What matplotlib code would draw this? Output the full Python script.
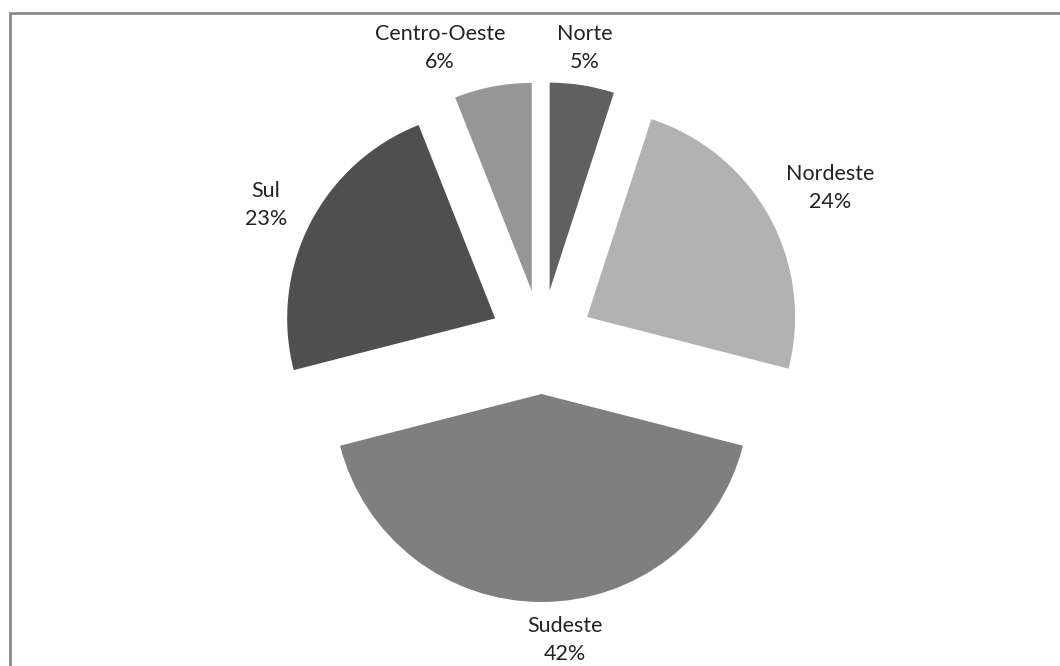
import matplotlib.pyplot as plt
from matplotlib.patches import Rectangle

# regional shares (%), clockwise from the top
regions = ["Norte", "Nordeste", "Sudeste", "Sul", "Centro-Oeste"]
shares = [5, 24, 42, 23, 6]
colors = ["#606060", "#b2b2b2", "#7f7f7f", "#4f4f4f", "#969696"]

W, H = 1060, 666
cx, cy, r = 541.5, 342, 208  # pie centre / radius in pixels

# where each "name\npct" label sits (pixels from top-left)
label_pos = {
    "Norte": (585, 48),
    "Nordeste": (830, 188),
    "Sudeste": (565, 640),
    "Sul": (266, 205),
    "Centro-Oeste": (440, 48),
}

fig = plt.figure(figsize=(W / 100, H / 100), dpi=100)
ax = fig.add_axes([0, 0, 1, 1])

ax.pie(shares, colors=colors, startangle=90, counterclock=False,
       explode=[0.25] * len(shares), radius=1,
       wedgeprops=dict(linewidth=0))

# one data unit = one radius, same pixel scale on both axes
ax.set_xlim(-cx / r, (W - cx) / r)
ax.set_ylim(-(H - cy) / r, cy / r)
ax.set_aspect("auto")
ax.axis("off")

for name, val in zip(regions, shares):
    px, py = label_pos[name]
    fig.text(px / W, 1 - py / H, f"{name}\n{val}%", ha="center", va="center",
             fontsize=15.5, family="Lato", color="#222222", linespacing=1.5)

# chart frame, cut off on the right and bottom
fig.patches.append(Rectangle((10 / W, -0.1), 1.2, 1.1 - 13 / H,
                             transform=fig.transFigure, fill=False,
                             edgecolor="#8a8a8a", linewidth=2))

fig.savefig("out.png", dpi=100)
